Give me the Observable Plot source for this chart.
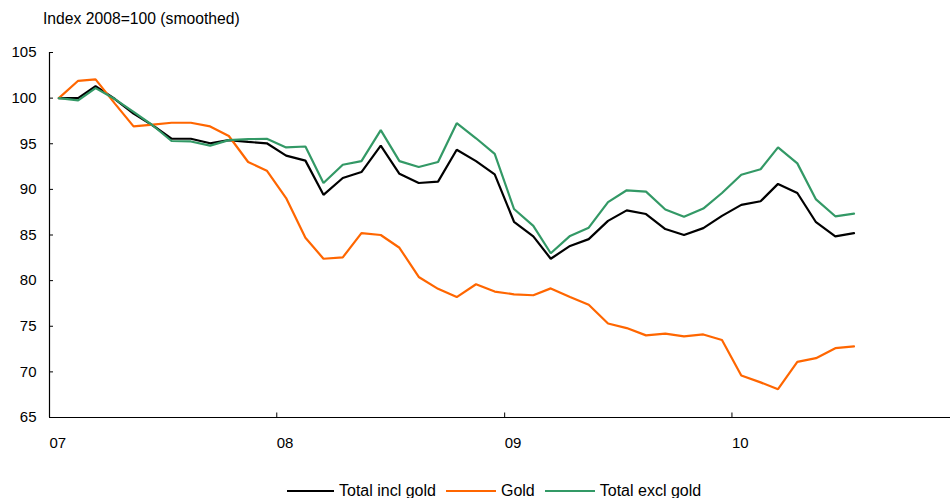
<!DOCTYPE html>
<html>
<head>
<meta charset="utf-8">
<script src="https://cdn.jsdelivr.net/npm/d3@7"></script>
<script src="https://cdn.jsdelivr.net/npm/@observablehq/plot@0.6"></script>
<style>
  html, body { margin: 0; padding: 0; background: #fff; }
  body { width: 950px; height: 498px; overflow: hidden; position: relative;
         font-family: "Liberation Sans", Arial, sans-serif; color: #000; }
  #title { position: absolute; left: 43px; top: 10px; font-size: 15.7px; line-height: 18px; white-space: nowrap; }
  #chart { position: absolute; left: 0; top: 0; }
  #legend { position: absolute; left: 287px; top: 481px; display: flex; align-items: center;
            font-size: 16px; line-height: 20px; white-space: nowrap; }
  .sw { display: inline-block; height: 2px; margin-right: 5px; }
  .lab { margin-right: 10px; }
</style>
</head>
<body>
<div id="title">Index 2008=100 (smoothed)</div>
<div id="chart"></div>
<div id="legend"></div>
<script>
// Series (monthly, Jan 2007 – Jul 2010)
const seriesNames = ["Total incl gold", "Gold", "Total excl gold"];
const seriesColors = ["#000000", "#FF6600", "#339966"];

const totalInclGold = [100.0, 100.0, 101.3, 99.9, 98.3, 97.0, 95.55, 95.55, 95.05, 95.4, 95.2, 95.05,
  93.7, 93.15, 89.4, 91.25, 91.9, 94.8, 91.7, 90.7, 90.85, 94.35, 93.1, 91.65,
  86.45, 84.85, 82.4, 83.8, 84.55, 86.55, 87.7, 87.3, 85.65, 85.0, 85.75, 87.1,
  88.3, 88.7, 90.6, 89.6, 86.4, 84.85, 85.2];

const gold = [100.0, 101.9, 102.05, 99.4, 96.9, 97.1, 97.3, 97.3, 96.9, 95.85, 93.0, 92.05,
  89.05, 84.7, 82.4, 82.55, 85.2, 85.0, 83.6, 80.4, 79.1, 78.2, 79.6, 78.8,
  78.5, 78.4, 79.15, 78.2, 77.35, 75.3, 74.8, 74.0, 74.2, 73.9, 74.1, 73.5,
  69.6, 68.85, 68.1, 71.1, 71.5, 72.6, 72.8];

const totalExclGold = [100.0, 99.75, 101.1, 99.9, 98.5, 97.0, 95.3, 95.25, 94.8, 95.4, 95.5, 95.55,
  94.6, 94.7, 90.7, 92.7, 93.1, 96.5, 93.1, 92.45, 93.0, 97.25, 95.6, 93.9,
  87.85, 86.0, 83.0, 84.9, 85.8, 88.6, 89.9, 89.75, 87.8, 87.0, 87.9, 89.6,
  91.6, 92.2, 94.6, 92.85, 88.9, 87.05, 87.35];

const yTicks = [65, 70, 75, 80, 85, 90, 95, 100, 105];
const xTickYears = ["07", "08", "09", "10"];

// Month categories (mid-month positions)
const months = d3.utcMonths(new Date(Date.UTC(2007, 0, 1)), new Date(Date.UTC(2010, 7, 1)))
  .map(m => d3.utcDay.offset(m, 15));

const values = [totalInclGold, gold, totalExclGold];
const data = [];
values.forEach((arr, s) => arr.forEach((v, i) => data.push({date: months[i], value: v, series: seriesNames[s]})));

const xStart = new Date(Date.UTC(2007, 0, 1));
const xEnd = new Date(Date.UTC(2010, 11, 18));
const xTicks = xTickYears.map(y => new Date(Date.UTC(2000 + +y, 0, 1)));

const plot = Plot.plot({
  width: 950,
  height: 470,
  marginLeft: 49,
  marginRight: 0,
  marginTop: 52,
  marginBottom: 53,
  style: {fontFamily: '"Liberation Sans", Arial, sans-serif', fontSize: "15px", color: "#000", background: "transparent", overflow: "visible"},
  x: {type: "utc", domain: [xStart, xEnd]},
  y: {domain: [65, 105]},
  color: {domain: seriesNames, range: seriesColors},
  marks: [
    Plot.axisY({ticks: yTicks, tickSize: -4, tickPadding: 17, tickFormat: d => String(d), label: null, fontSize: 15}),
    Plot.axisX({ticks: xTicks, tickSize: -4.5, tickPadding: 24, tickFormat: d3.utcFormat("%y"), textAnchor: "start", label: null, fontSize: 15}),
    Plot.ruleX([xStart], {stroke: "#000", strokeWidth: 1.2}),
    Plot.ruleY([65], {stroke: "#000", strokeWidth: 1.2}),
    Plot.line(data, {x: "date", y: "value", z: "series", stroke: "series", strokeWidth: 2.2, strokeLinejoin: "miter"})
  ]
});
document.getElementById("chart").appendChild(plot);

const swatchWidths = [47, 50, 50];
const legend = document.getElementById("legend");
seriesNames.forEach((n, i) => {
  const sw = document.createElement("span");
  sw.className = "sw";
  sw.style.background = seriesColors[i];
  sw.style.width = swatchWidths[i] + "px";
  const lab = document.createElement("span");
  lab.className = "lab";
  lab.textContent = n;
  legend.appendChild(sw);
  legend.appendChild(lab);
});
</script>
</body>
</html>
